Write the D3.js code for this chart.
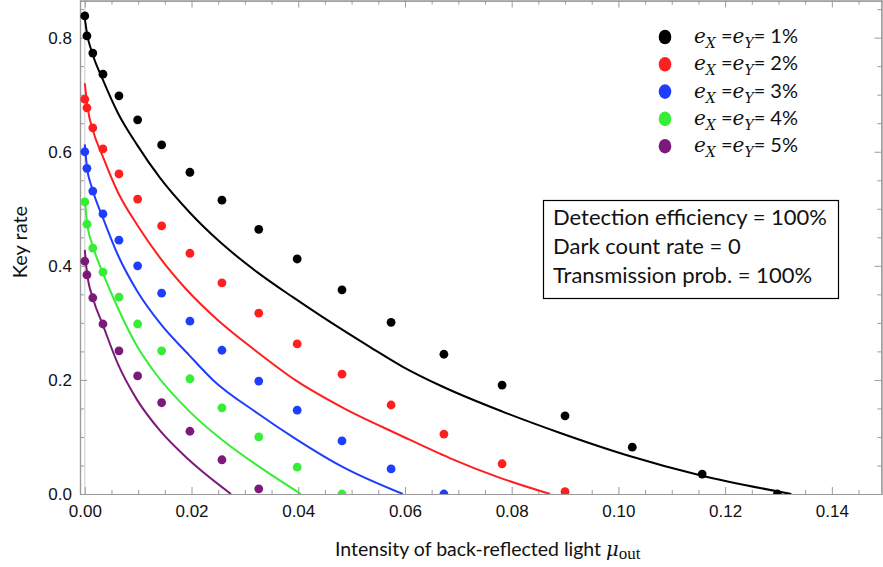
<!DOCTYPE html>
<html>
<head>
<meta charset="utf-8">
<script src="https://cdn.jsdelivr.net/npm/d3@7"></script>
<style>
  body { margin: 0; background: #fff; }
  svg { display: block; }
</style>
</head>
<body>
<script>
var w = 883;
var h = 567;

// x positions of the simulated points (shared by all series)
var muDots = [0, 0.0004, 0.0015, 0.0034, 0.0064, 0.0099, 0.0144, 0.0197, 0.0257, 0.0326,
              0.0398, 0.0482, 0.0574, 0.0673, 0.0782, 0.0900, 0.1026, 0.1157, 0.1298];

// simulated key rates (dots)
var dots1 = [0.838, 0.803, 0.773, 0.736, 0.698, 0.656, 0.612, 0.564, 0.515, 0.464,
             0.412, 0.358, 0.301, 0.245, 0.191, 0.137, 0.082, 0.035, 0.0];
var dots2 = [0.692, 0.677, 0.642, 0.605, 0.561, 0.517, 0.470, 0.422, 0.370, 0.317,
             0.263, 0.210, 0.156, 0.105, 0.053, 0.004];
var dots3 = [0.600, 0.571, 0.531, 0.491, 0.445, 0.400, 0.352, 0.303, 0.252, 0.198,
             0.147, 0.093, 0.044, 0.0];
var dots4 = [0.512, 0.473, 0.431, 0.389, 0.345, 0.298, 0.251, 0.202, 0.151, 0.100, 0.047, 0.0];
var dots5 = [0.408, 0.384, 0.344, 0.298, 0.251, 0.207, 0.160, 0.110, 0.060, 0.009];

// theory curves (lines)
var curveMu1 = [0, 0.0004, 0.0015, 0.0034, 0.0062, 0.0098, 0.0141, 0.0197, 0.0253, 0.0323,
                0.0390, 0.0446, 0.0534, 0.0596, 0.0671, 0.0784, 0.0891, 0.1016, 0.1153, 0.1324];
var curveRate1 = [0.834, 0.808, 0.770, 0.726, 0.668, 0.612, 0.554, 0.493, 0.442, 0.389,
                  0.345, 0.310, 0.258, 0.223, 0.188, 0.144, 0.107, 0.068, 0.033, 0.0];
var curveMu2 = [0, 0.0006, 0.0015, 0.0034, 0.0062, 0.0098, 0.0141, 0.0191, 0.0249, 0.0319,
                0.0394, 0.0484, 0.0591, 0.0684, 0.0773, 0.0872];
var curveRate2 = [0.720, 0.673, 0.638, 0.591, 0.529, 0.472, 0.414, 0.358, 0.305, 0.252,
                  0.200, 0.151, 0.103, 0.063, 0.030, 0.0];
var curveMu3 = [0, 0.0004, 0.0013, 0.0034, 0.0062, 0.0098, 0.0144, 0.0195, 0.0240, 0.0323,
                0.0398, 0.0484, 0.0596];
var curveRate3 = [0.613, 0.573, 0.538, 0.484, 0.419, 0.356, 0.296, 0.244, 0.200, 0.142,
                  0.095, 0.047, 0.0];
var curveMu4 = [0, 0.0004, 0.0015, 0.0034, 0.0062, 0.0098, 0.0128, 0.0197, 0.0257, 0.0328, 0.0405];
var curveRate4 = [0.519, 0.477, 0.435, 0.387, 0.326, 0.259, 0.217, 0.144, 0.095, 0.047, 0.0];
var curveMu5 = [0, 0.0004, 0.0015, 0.0034, 0.0062, 0.0098, 0.0141, 0.0195, 0.0274];
var curveRate5 = [0.428, 0.389, 0.344, 0.296, 0.228, 0.165, 0.111, 0.060, 0.0];

var errLabels = ["1%", "2%", "3%", "4%", "5%"];
var colors = ["#000000", "#ff1f1f", "#1f3dff", "#35ee35", "#7b1a7b"];

var xTicks = [0, 0.02, 0.04, 0.06, 0.08, 0.10, 0.12, 0.14];
var yTicks = [0, 0.2, 0.4, 0.6, 0.8];
var boxLines = ["Detection efficiency = 100%", "Dark count rate = 0", "Transmission prob. = 100%"];

var series = [
    { dots: dots1, mu: curveMu1, rate: curveRate1 },
    { dots: dots2, mu: curveMu2, rate: curveRate2 },
    { dots: dots3, mu: curveMu3, rate: curveRate3 },
    { dots: dots4, mu: curveMu4, rate: curveRate4 },
    { dots: dots5, mu: curveMu5, rate: curveRate5 }
];

// frame of the plot
var fLeft = 80, fRight = 882, fTop = 0, fBottom = 494;

var xScale = d3.scaleLinear()
    .domain([-0.0009, 0.1494])
    .range([fLeft, fRight]);

var yScale = d3.scaleLinear()
    .domain([0, 0.866])
    .range([fBottom, fTop]);

var svg = d3.select("body")
    .append("svg")
    .attr("width", w)
    .attr("height", h);

svg.append("clipPath")
    .attr("id", "plotclip")
    .append("rect")
    .attr("x", fLeft)
    .attr("y", fTop)
    .attr("width", fRight - fLeft)
    .attr("height", fBottom - fTop);

// minor tick values
var xMinor = d3.range(0, 0.1495, 0.005).filter(function(v) {
    return Math.abs(v / 0.02 - Math.round(v / 0.02)) > 0.01;
});
var yMinor = d3.range(0, 0.866, 0.05).filter(function(v) {
    return Math.abs(v / 0.2 - Math.round(v / 0.2)) > 0.01;
});

var frameColor = "#9a9a9a";
var tickFont = "'Liberation Sans', Arial, sans-serif";

function styleAxis(g) {
    g.selectAll("path.domain").attr("stroke", frameColor).attr("stroke-width", 1.2);
    g.selectAll(".tick line").attr("stroke", frameColor).attr("stroke-width", 1);
    g.selectAll(".tick text")
        .attr("fill", "#111")
        .style("font-family", tickFont)
        .style("font-size", "17px");
}

// x = 0 line
svg.append("line")
    .attr("x1", xScale(0)).attr("x2", xScale(0))
    .attr("y1", fTop).attr("y2", fBottom)
    .attr("stroke", "#d4d4d4")
    .attr("stroke-width", 1.2);

// bottom axis
svg.append("g")
    .attr("transform", "translate(0," + fBottom + ")")
    .call(d3.axisBottom(xScale).tickValues(xTicks).tickFormat(d3.format(".2f"))
        .tickSizeInner(-7).tickSizeOuter(0).tickPadding(11))
    .call(styleAxis);
svg.append("g")
    .attr("transform", "translate(0," + fBottom + ")")
    .call(d3.axisBottom(xScale).tickValues(xMinor).tickFormat("")
        .tickSizeInner(-4).tickSizeOuter(0))
    .call(styleAxis);

// top axis
svg.append("g")
    .attr("transform", "translate(0," + (fTop + 0.6) + ")")
    .call(d3.axisTop(xScale).tickValues(xTicks).tickFormat("")
        .tickSizeInner(-7).tickSizeOuter(0))
    .call(styleAxis);
svg.append("g")
    .attr("transform", "translate(0," + (fTop + 0.6) + ")")
    .call(d3.axisTop(xScale).tickValues(xMinor).tickFormat("")
        .tickSizeInner(-4).tickSizeOuter(0))
    .call(styleAxis);

// left axis
svg.append("g")
    .attr("transform", "translate(" + fLeft + ",0)")
    .call(d3.axisLeft(yScale).tickValues(yTicks).tickFormat(d3.format(".1f"))
        .tickSizeInner(-7).tickSizeOuter(0).tickPadding(8))
    .call(styleAxis);
svg.append("g")
    .attr("transform", "translate(" + fLeft + ",0)")
    .call(d3.axisLeft(yScale).tickValues(yMinor).tickFormat("")
        .tickSizeInner(-4).tickSizeOuter(0))
    .call(styleAxis);

// right axis
svg.append("g")
    .attr("transform", "translate(" + (fRight - 0.6) + ",0)")
    .call(d3.axisRight(yScale).tickValues(yTicks).tickFormat("")
        .tickSizeInner(-7).tickSizeOuter(0))
    .call(styleAxis);
svg.append("g")
    .attr("transform", "translate(" + (fRight - 0.6) + ",0)")
    .call(d3.axisRight(yScale).tickValues(yMinor).tickFormat("")
        .tickSizeInner(-4).tickSizeOuter(0))
    .call(styleAxis);

var plot = svg.append("g").attr("clip-path", "url(#plotclip)");

var line = d3.line()
    .x(function(d) { return xScale(d[0]); })
    .y(function(d) { return yScale(d[1]); })
    .curve(d3.curveMonotoneX);

// theory lines
plot.selectAll("path.curve")
    .data(series)
    .enter()
    .append("path")
    .attr("class", "curve")
    .attr("fill", "none")
    .attr("stroke", function(d, i) { return colors[i]; })
    .attr("stroke-width", 2)
    .attr("d", function(d) {
        return line(d.mu.map(function(m, j) { return [m, d.rate[j]]; }));
    });

// simulated points
var groups = plot.selectAll("g.dots")
    .data(series)
    .enter()
    .append("g")
    .attr("class", "dots")
    .attr("fill", function(d, i) { return colors[i]; });

groups.selectAll("circle")
    .data(function(d) { return d.dots; })
    .enter()
    .append("circle")
    .attr("cx", function(d, j) { return xScale(muDots[j]); })
    .attr("cy", function(d) { return yScale(d); })
    .attr("r", 4.4);

// legend
var legend = svg.selectAll("g.legend")
    .data(errLabels)
    .enter()
    .append("g")
    .attr("class", "legend")
    .attr("transform", function(d, i) { return "translate(665," + (37 + i * 27.3) + ")"; });

legend.append("ellipse")
    .attr("rx", 6.3)
    .attr("ry", 7.3)
    .attr("fill", function(d, i) { return colors[i]; });

var ltext = legend.append("text")
    .attr("x", 29)
    .attr("y", 6)
    .style("font-family", "Lato, sans-serif")
    .style("font-size", "20px")
    .attr("fill", "#111");

ltext.append("tspan").text("e")
    .style("font-family", "'DejaVu Serif', serif").style("font-style", "italic");
ltext.append("tspan").text("X").attr("dy", 5)
    .style("font-family", "'DejaVu Serif', serif").style("font-style", "italic").style("font-size", "14px");
ltext.append("tspan").text(" =").attr("dy", -5);
ltext.append("tspan").text("e")
    .style("font-family", "'DejaVu Serif', serif").style("font-style", "italic");
ltext.append("tspan").text("Y").attr("dy", 5)
    .style("font-family", "'DejaVu Serif', serif").style("font-style", "italic").style("font-size", "14px");
ltext.append("tspan").text(function(d) { return "= " + d; }).attr("dy", -5);

// info box
svg.append("rect")
    .attr("x", 543.5)
    .attr("y", 200.5)
    .attr("width", 295)
    .attr("height", 98)
    .attr("fill", "#fff")
    .attr("stroke", "#000")
    .attr("stroke-width", 1.2);

svg.selectAll("text.box")
    .data(boxLines)
    .enter()
    .append("text")
    .attr("class", "box")
    .attr("x", 553)
    .attr("y", function(d, i) { return 225 + i * 29; })
    .style("font-family", "Lato, sans-serif")
    .style("font-size", "22px")
    .attr("fill", "#111")
    .text(function(d) { return d; });

// axis titles
svg.append("text")
    .attr("transform", "translate(27,242) rotate(-90)")
    .attr("text-anchor", "middle")
    .style("font-family", "Lato, sans-serif")
    .style("font-size", "20px")
    .attr("fill", "#111")
    .text("Key rate");

var xt = svg.append("text")
    .attr("x", 335)
    .attr("y", 556)
    .style("font-family", "Lato, sans-serif")
    .style("font-size", "19.5px")
    .attr("fill", "#111");
xt.append("tspan").text("Intensity of back-reflected light ");
xt.append("tspan").text("μ")
    .style("font-family", "'DejaVu Serif', serif").style("font-style", "italic");
xt.append("tspan").text("out").attr("dy", 3)
    .style("font-family", "'Liberation Serif', serif").style("font-size", "17px");
</script>
</body>
</html>
